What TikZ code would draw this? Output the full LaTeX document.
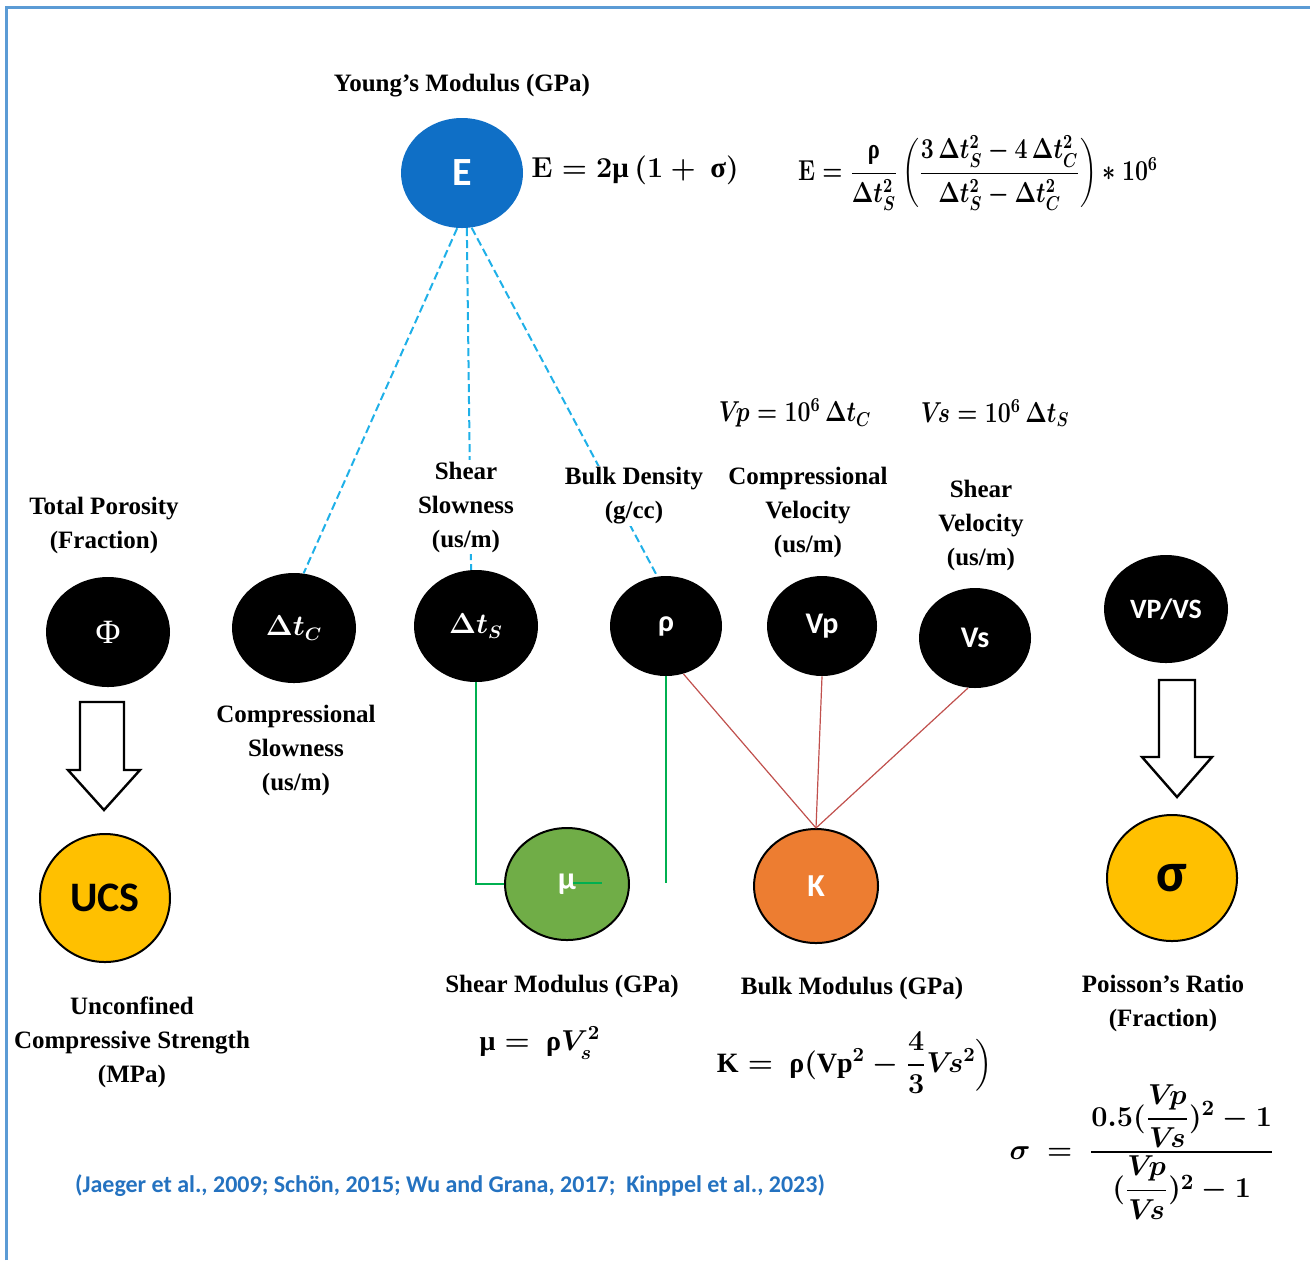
\documentclass[tikz,border=0pt]{standalone}
\usepackage{amsmath}
\usepackage{graphicx}
\usepackage{fontspec}
\setmainfont{Liberation Serif}
\newfontfamily\calib{Carlito}
\usetikzlibrary{shapes.geometric,calc}
\definecolor{eblue}{HTML}{0F6FC6}
\definecolor{dashblue}{HTML}{1FB0E8}
\definecolor{lgreen}{HTML}{00B050}
\definecolor{lred}{HTML}{C0504D}
\definecolor{ucsyellow}{HTML}{FFC000}
\definecolor{mugreen}{HTML}{70AD47}
\definecolor{korange}{HTML}{ED7D31}
\definecolor{citeblue}{HTML}{2472C0}
\definecolor{frameblue}{HTML}{5B9BD5}
\begin{document}
\begin{tikzpicture}[x=0.5pt,y=-0.5pt,
  ell/.style={ellipse, inner sep=0pt, text=white},
  blk/.style={ell, fill=black},
  lbl/.style={align=center, font=\fontsize{12.5}{17}\selectfont\bfseries, fill=white, inner sep=1pt},
  frm/.style={font=\fontsize{14}{16}\selectfont\bfseries\boldmath, inner sep=0pt},
  dashln/.style={draw=dashblue, line width=1pt, dash pattern=on 4pt off 2pt},
  grn/.style={draw=lgreen, line width=1pt},
  redln/.style={draw=lred, line width=0.6pt},
  barrow/.style={draw=black, line width=1.2pt, fill=white, line join=miter}]
\useasboundingbox (0,0) rectangle (1310,1260);
\draw[frameblue, line width=1.5pt] (6,1260) -- (6,7) -- (1310,7);

% nodes
\node[ell, fill=eblue, minimum width=61pt, minimum height=55pt, font=\calib\bfseries\fontsize{20}{20}\selectfont] (E) at (462,173) {E};
\node[blk, minimum width=62pt, minimum height=55pt, font=\fontsize{17}{17}\selectfont] (phi) at (108,632) {Φ};
\node[blk, minimum width=62pt, minimum height=55pt, font=\fontsize{13.5}{13.5}\selectfont\boldmath] (dtc) at (294,628) {$\Delta t_C$};
\node[blk, minimum width=62pt, minimum height=56pt, font=\fontsize{13.5}{13.5}\selectfont\boldmath] (dts) at (476,626) {$\Delta t_S$};
\node[blk, minimum width=56pt, minimum height=50pt, font=\calib\bfseries\fontsize{15}{15}\selectfont] (rho) at (666,626) {ρ};
\node[blk, minimum width=55pt, minimum height=50pt, font=\calib\bfseries\fontsize{15}{15}\selectfont] (vp) at (822,626) {Vp};
\node[blk, minimum width=56pt, minimum height=50pt, font=\calib\bfseries\fontsize{15}{15}\selectfont] (vs) at (975,638) {Vs};
\node[blk, minimum width=62pt, minimum height=54pt, font=\calib\bfseries\fontsize{14}{14}\selectfont] (vpvs) at (1166,609) {VP/VS};
\node[ell, fill=ucsyellow, draw=black, line width=1pt, text=black, minimum width=65pt, minimum height=64pt, font=\calib\bfseries\fontsize{21}{21}\selectfont] (ucs) at (105,898) {UCS};
\node[ell, fill=mugreen, draw=black, line width=1pt, minimum width=62pt, minimum height=56pt, font=\calib\bfseries\fontsize{16}{16}\selectfont] (mu) at (567,884) {μ};
\node[ell, fill=korange, draw=black, line width=1pt, minimum width=62pt, minimum height=57pt, font=\calib\bfseries\fontsize{16}{16}\selectfont] (K) at (816,886) {K};
\node[ell, fill=ucsyellow, draw=black, line width=1pt, text=black, minimum width=65pt, minimum height=63pt, font=\calib\bfseries\fontsize{28}{28}\selectfont] (sig) at (1172,878) {σ};

% connectors
\draw[dashln] (E.-95) -- (dtc.80);
\draw[dashln] (E.-85) -- (dts.95);
\draw[dashln] (E.-80) -- (rho.100);
\draw[grn] (dts.south) |- (mu.west);
\coordinate (rhoend) at (666,883);
\draw[grn] (rho.south) -- (rhoend);
\coordinate (mua) at (573,883);
\coordinate (mub) at (602,883);
\draw[grn] (mua) -- (mub);
\draw[redln] (rho.-70) -- (K.north);
\draw[redln] (vp.south) -- (K.north);
\draw[redln] (vs.-98) -- (K.north);

% block arrows
\draw[barrow] (80,702) -- (124,702) -- (124,770) -- (140,770) -- (104,810) -- (68,770) -- (80,770) -- cycle;
\draw[barrow] (1159,680) -- (1195,680) -- (1195,757) -- (1212,757) -- (1177,797) -- (1142,757) -- (1159,757) -- cycle;

% labels
\node[lbl] (ly) at (462,86) {Young’s Modulus (GPa)};
\node[lbl] (ltp) at (104,525) {Total Porosity\\(Fraction)};
\node[lbl] (lss) at (466,507) {Shear\\Slowness\\(us/m)};
\node[lbl] (lbd) at (634,496) {Bulk Density\\(g/cc)};
\node[lbl] (lcv) at (808,512) {Compressional\\Velocity\\(us/m)};
\node[lbl] (lsv) at (981,525) {Shear\\Velocity\\(us/m)};
\node[lbl] (lcs) at (296,750) {Compressional\\Slowness\\(us/m)};
\node[lbl] (lucs) at (132,1042) {Unconfined\\Compressive Strength\\(MPa)};
\node[lbl] (lsm) at (562,986) {Shear Modulus (GPa)};
\node[lbl] (lbm) at (852,988) {Bulk Modulus (GPa)};
\node[lbl] (lpr) at (1163,1003) {Poisson’s Ratio\\(Fraction)};

% formulas
\node[frm, anchor=west, font=\fontsize{14.5}{16}\selectfont\bfseries\boldmath] (f1) at (531,170) {$\mathbf{E} = 2\text{μ}\,(1+\ \text{σ})$};
\node[frm] (f2) at (978,173) {\scalebox{0.8}[1]{$\mathbf{E} = \dfrac{\text{ρ}}{\Delta t_S^2}\left(\dfrac{3\,\Delta t_S^2-4\,\Delta t_C^2}{\Delta t_S^2-\Delta t_C^2}\right)\ast 10^6$}};
\node[frm] (f3) at (795,413) {\scalebox{0.8}[1]{$V\!p = 10^6\,\Delta t_C$}};
\node[frm] (f4) at (995,413) {\scalebox{0.8}[1]{$V\!s = 10^6\,\Delta t_S$}};
\node[frm] (f5) at (540,1043) {$\text{μ} =\ \text{ρ}V_s^2$};
\node[frm] (f6) at (855,1063) {$\mathrm{K} =\ \text{ρ}(\mathrm{Vp}^2-\dfrac{4}{3}V\!s^2\Bigr)$};
\node[frm, font=\fontsize{15}{17}\selectfont\bfseries\boldmath] (f7) at (1142,1152) {$\sigma\ =\ \dfrac{0.5(\dfrac{V\!p}{V\!s})^2-1}{(\dfrac{V\!p}{V\!s})^2-1}$};

\node[font=\calib\bfseries\fontsize{12}{14}\selectfont, text=citeblue, inner sep=0pt] (cite) at (450,1186) {(Jaeger et al., 2009; Schön, 2015; Wu and Grana, 2017;\ \ Kinppel et al., 2023)};
\end{tikzpicture}
\end{document}
